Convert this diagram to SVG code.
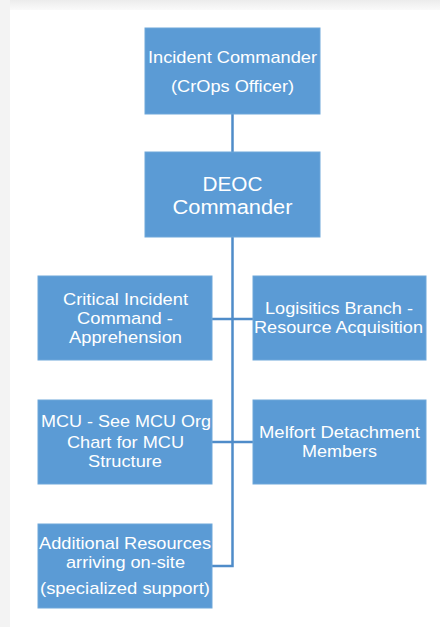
<svg xmlns="http://www.w3.org/2000/svg" width="440" height="627" viewBox="0 0 440 627">
  <defs>
    <linearGradient id="topShade" x1="0" y1="0" x2="0" y2="1">
      <stop offset="0" stop-color="#ececec"/>
      <stop offset="1" stop-color="#fafafa"/>
    </linearGradient>
    <style>
      .box { fill: #5b9bd5; stroke: #6ea7da; stroke-width: 1; }
      .lbl { fill: #ffffff; font-family: "Liberation Sans", Arial, sans-serif; font-size: 17px; text-anchor: middle; }
      .big { font-size: 20.5px; }
      .wire { fill: none; stroke: #4f8cc9; stroke-width: 2.5; }
    </style>
  </defs>

  <!-- page frame -->
  <rect x="0" y="0" width="440" height="627" fill="#ffffff"/>
  <rect x="0" y="0" width="440" height="10" fill="url(#topShade)"/>
  <rect x="0" y="0" width="10" height="627" fill="#f3f3f3"/>

  <!-- connectors -->
  <g id="connectors">
    <line class="wire" x1="232.5" y1="114" x2="232.5" y2="152"/>
    <polyline class="wire" points="232.5,237 232.5,566 212,566"/>
    <line class="wire" x1="212" y1="319" x2="253" y2="319"/>
    <line class="wire" x1="212" y1="442" x2="253" y2="442"/>
  </g>

  <g id="incident-commander">
    <rect class="box" x="145" y="28" width="175" height="86"/>
    <text class="lbl" x="232.5" y="62.5" textLength="169" lengthAdjust="spacingAndGlyphs">Incident Commander</text>
    <text class="lbl" x="232.5" y="91.5" textLength="123" lengthAdjust="spacingAndGlyphs">(CrOps Officer)</text>
  </g>

  <g id="deoc-commander">
    <rect class="box" x="145" y="152" width="175" height="85"/>
    <text class="lbl big" x="232.5" y="190.5" textLength="60" lengthAdjust="spacingAndGlyphs">DEOC</text>
    <text class="lbl big" x="232.5" y="213.5" textLength="120" lengthAdjust="spacingAndGlyphs">Commander</text>
  </g>

  <g id="critical-incident">
    <rect class="box" x="38" y="276" width="174" height="84"/>
    <text class="lbl" x="125.5" y="305" textLength="125" lengthAdjust="spacingAndGlyphs">Critical Incident</text>
    <text class="lbl" x="125" y="324" textLength="96" lengthAdjust="spacingAndGlyphs">Command -</text>
    <text class="lbl" x="125.5" y="343" textLength="113" lengthAdjust="spacingAndGlyphs">Apprehension</text>
  </g>

  <g id="logistics-branch">
    <rect class="box" x="253" y="276" width="173" height="84"/>
    <text class="lbl" x="339" y="314" textLength="148" lengthAdjust="spacingAndGlyphs">Logisitics Branch -</text>
    <text class="lbl" x="338.5" y="333" textLength="169" lengthAdjust="spacingAndGlyphs">Resource Acquisition</text>
  </g>

  <g id="mcu">
    <rect class="box" x="38" y="400" width="174" height="84"/>
    <text class="lbl" x="126" y="427" textLength="170" lengthAdjust="spacingAndGlyphs">MCU - See MCU Org</text>
    <text class="lbl" x="125.5" y="448" textLength="117" lengthAdjust="spacingAndGlyphs">Chart for MCU</text>
    <text class="lbl" x="125" y="467" textLength="74" lengthAdjust="spacingAndGlyphs">Structure</text>
  </g>

  <g id="melfort-detachment">
    <rect class="box" x="253" y="400" width="173" height="84"/>
    <text class="lbl" x="339.5" y="438" textLength="161" lengthAdjust="spacingAndGlyphs">Melfort Detachment</text>
    <text class="lbl" x="339.5" y="457" textLength="75" lengthAdjust="spacingAndGlyphs">Members</text>
  </g>

  <g id="additional-resources">
    <rect class="box" x="38" y="524" width="174" height="84"/>
    <text class="lbl" x="125" y="549" textLength="172" lengthAdjust="spacingAndGlyphs">Additional Resources</text>
    <text class="lbl" x="125.5" y="568" textLength="119" lengthAdjust="spacingAndGlyphs">arriving on-site</text>
    <text class="lbl" x="125" y="594" textLength="170" lengthAdjust="spacingAndGlyphs">(specialized support)</text>
  </g>
</svg>
